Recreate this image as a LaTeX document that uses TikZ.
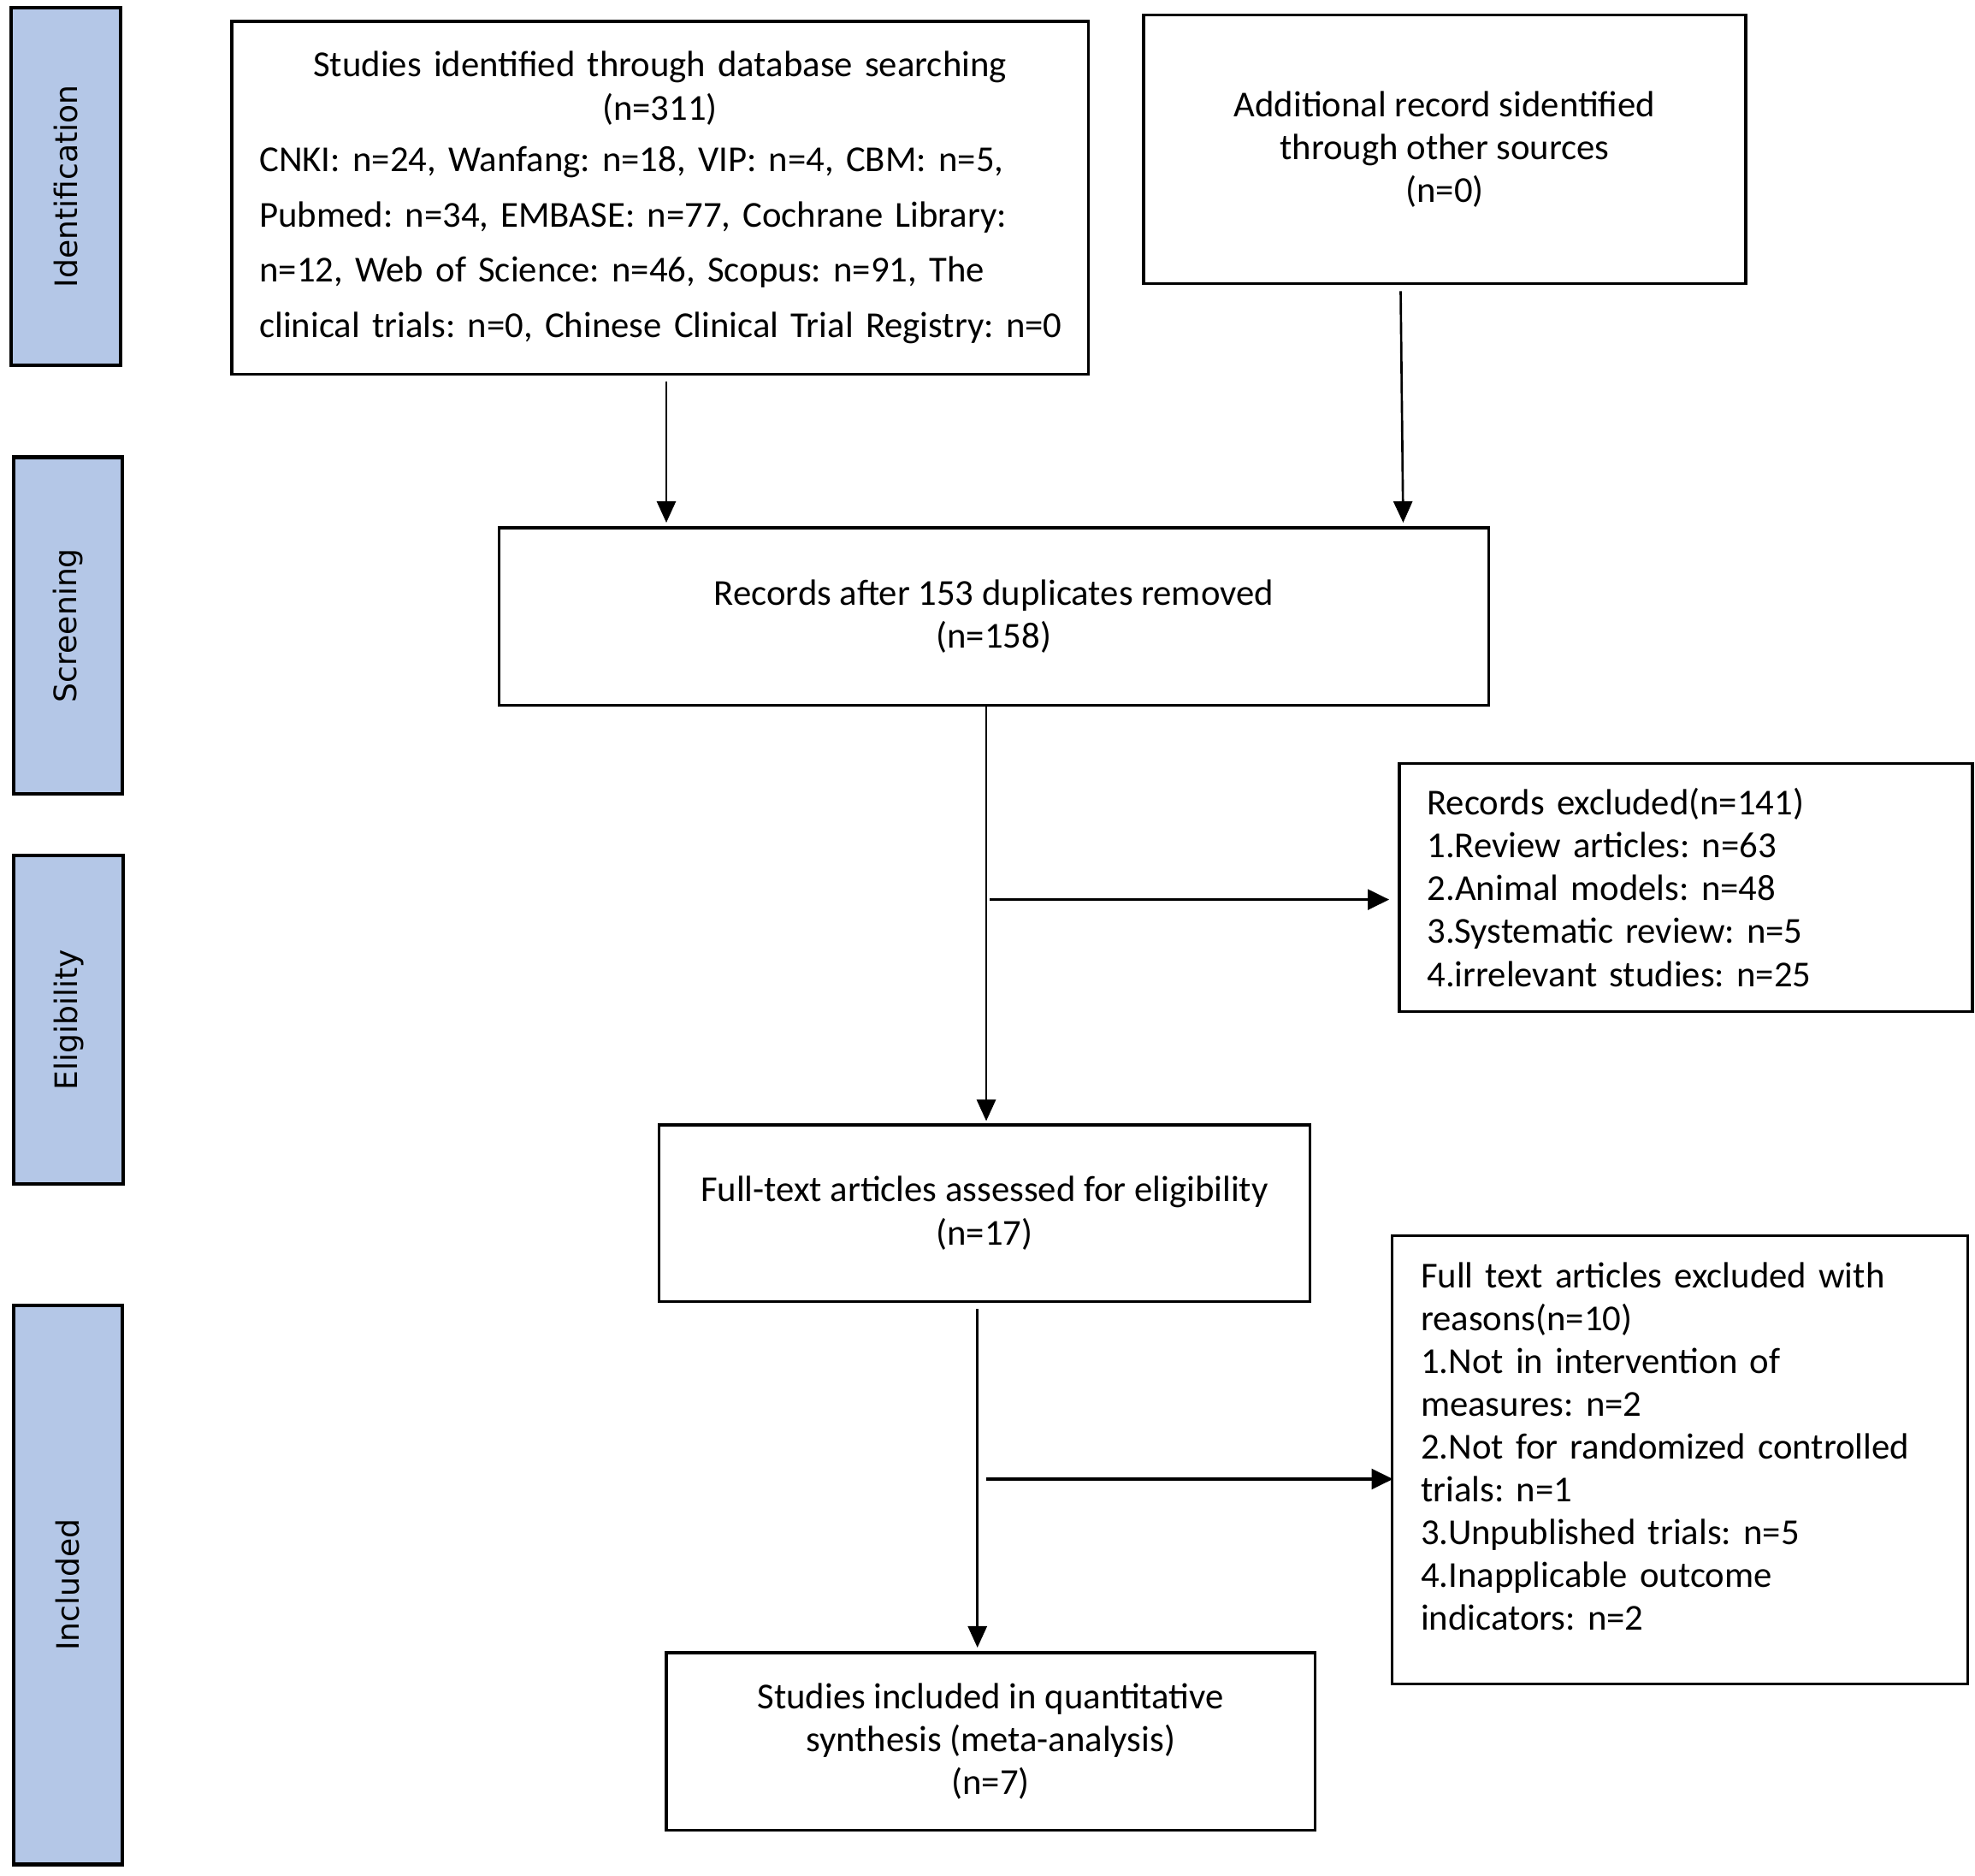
\documentclass[tikz,border=0pt]{standalone}
\usepackage{fontspec}
\setmainfont{Carlito}
\newfontfamily\stagefont{DejaVu Sans}
\usetikzlibrary{arrows.meta,calc}
\definecolor{stageblue}{HTML}{B4C7E7}
\frenchspacing
\begin{document}
\begin{tikzpicture}[x=1pt,y=-1pt,
  every node/.style={font=\frenchspacing\fontsize{29}{34}\selectfont},
  box/.style={draw=black,line width=2.2pt,inner sep=0pt,align=center},
  lbox/.style={draw=black,line width=2.2pt,inner ysep=0pt,align=left},
  stage/.style={draw=black,fill=stageblue,line width=2.8pt,rotate=90,inner sep=0pt,font=\stagefont\fontsize{24.5}{28}\selectfont},
  arr/.style={line width=1.8pt,-{Triangle[length=17pt,width=15pt]}},
  barr/.style={line width=2.4pt,-{Triangle[length=17pt,width=16pt]}}
]
\useasboundingbox (0,0) rectangle (1568,1489);

% stage labels
\node[stage,minimum width=284pt,minimum height=87pt] (s1) at (52.5,148) {Identification};
\node[stage,minimum width=267pt,minimum height=86pt] (s2) at (54,496.5) {Screening};
\node[stage,minimum width=261pt,minimum height=87pt] (s3) at (54.5,809.5) {Eligibility};
\node[stage,minimum width=444pt,minimum height=86pt] (s4) at (54,1258) {Included};

% boxes
\node[lbox,minimum width=680pt,minimum height=280pt,inner xsep=22pt,text width=636pt] (A) at (524,157)
 {{\centering Studies identified through database searching\\(n=311)\par}\vspace{7pt}\raggedright
  \mbox{CNKI: n=24, Wanfang: n=18, VIP: n=4, CBM: n=5,}\\[10pt]
  \mbox{Pubmed: n=34, EMBASE: n=77, Cochrane Library:}\\[10pt]
  \mbox{n=12, Web of Science: n=46, Scopus: n=91, The}\\[10pt]
  \mbox{clinical trials: n=0, Chinese Clinical Trial Registry: n=0}};

\node[box,minimum width=478pt,minimum height=213pt] (B) at (1147,118.5)
 {Additional record sidentified\\through other sources\\(n=0)};

\node[box,minimum width=786pt,minimum height=141pt] (C) at (789,489.5)
 {Records after 153 duplicates removed\\(n=158)};

\node[lbox,minimum width=455pt,minimum height=197pt,inner xsep=22pt,text width=411pt] (D) at (1338.5,704.5)
 {Records excluded(n=141)\\1.Review articles: n=63\\2.Animal models: n=48\\3.Systematic review: n=5\\4.irrelevant studies: n=25};

\node[box,minimum width=517pt,minimum height=140pt] (E) at (781.5,963)
 {Full-text articles assessed for eligibility\\(n=17)};

\node[lbox,minimum width=457pt,minimum height=356pt,inner xsep=23pt,text width=411pt] (F) at (1333.5,1159)
 {Full text articles excluded with\\reasons(n=10)\\1.Not in intervention of\\measures: n=2\\2.Not for randomized controlled\\trials: n=1\\3.Unpublished trials: n=5\\4.Inapplicable outcome\\indicators: n=2\\[-12pt]\mbox{}};

\node[box,minimum width=515pt,minimum height=141pt] (G) at (786.5,1382.5)
 {Studies included in quantitative\\synthesis (meta-analysis)\\(n=7)};

% connectors
\coordinate (a1) at ($(A.south)+(5,5)$);
\draw[arr] (a1) -- ($(a1 |- C.north)+(0,-3)$);
\coordinate (b1) at ($(B.south)+(-35,5)$);
\draw[arr] (b1) -- ($(b1 |- C.north)+(2,-3)$);
\coordinate (c1) at ($(C.south)+(-6,0)$);
\draw[arr] (c1) -- ($(c1 |- E.north)+(0,-2)$);
\coordinate (j1) at ($(c1)+(3,153)$);
\draw[barr] (j1) -- ($(j1 -| D.west)+(-7,0)$);
\coordinate (e1) at ($(E.south)+(-5.5,5)$);
\draw[arr] (e1) -- ($(e1 |- G.north)+(0,-3)$);
\coordinate (j2) at ($(E.south)+(1.5,140)$);
\draw[barr] (j2) -- ($(j2 -| F.west)+(2,0)$);
\end{tikzpicture}
\end{document}
